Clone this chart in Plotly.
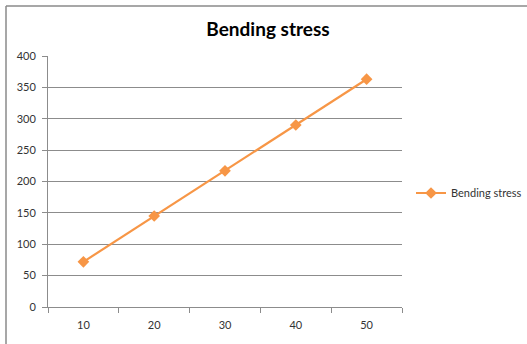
import plotly.graph_objects as go

categories = ["10", "20", "30", "40", "50"]
bending_stress = [72, 145, 217, 290, 363]
y_ticks = [0, 50, 100, 150, 200, 250, 300, 350, 400]

W, H = 527, 344
L, R, T, B = 48, 125, 56, 37
pw, ph = W - L - R, H - T - B

grid = "#8c8c8c"
fig = go.Figure()
fig.add_trace(go.Scatter(
    x=categories, y=bending_stress, mode="lines+markers", name="Bending stress",
    line=dict(color="#F79646", width=2.2),
    marker=dict(symbol="diamond", size=9, color="#F79646"),
))

def px_x(p):
    return (p - L) / pw

def px_y(p):
    return 1 - (p - T) / ph

fig.update_layout(
    width=W, height=H,
    margin=dict(l=L, r=R, t=T, b=B, autoexpand=False),
    paper_bgcolor="white", plot_bgcolor="white",
    font=dict(family="Lato, Liberation Sans, sans-serif", size=11, color="#333333"),
    title=dict(text="<b>Bending stress</b>", x=px_x(268), xref="paper", xanchor="center",
               y=1 - 29 / H, yref="container", yanchor="middle",
               font=dict(size=19, color="black", family="Lato, Liberation Sans, sans-serif")),
    xaxis=dict(type="category", range=[-0.5, len(categories) - 0.5], autorange=False,
               showgrid=False, showline=True, linecolor=grid, linewidth=1,
               ticks="outside", tickson="boundaries", ticklen=5, tickcolor=grid,
               ticklabelstandoff=8, tickfont=dict(size=11), fixedrange=True),
    yaxis=dict(range=[0, 400], tickvals=y_ticks, showgrid=True, gridcolor=grid, gridwidth=1,
               showline=True, linecolor=grid, linewidth=1, ticks="outside", ticklen=5,
               tickcolor=grid, zeroline=False, ticklabelstandoff=4, tickfont=dict(size=11)),
    showlegend=True,
    legend=dict(x=px_x(411), y=px_y(193), xanchor="left", yanchor="middle",
                font=dict(size=11, color="#333333"), bgcolor="rgba(0,0,0,0)",
                itemwidth=30),
    shapes=[
        dict(type="line", xref="paper", yref="paper", x0=px_x(6), x1=px_x(6),
             y0=px_y(6), y1=px_y(360), line=dict(color="#8a8a8a", width=1.5)),
        dict(type="line", xref="paper", yref="paper", x0=px_x(6), x1=px_x(540),
             y0=px_y(6), y1=px_y(6), line=dict(color="#8a8a8a", width=1.5)),
    ],
)

fig.write_html("out.html", config={"displayModeBar": False},
               post_script="document.body.style.margin='0';document.body.style.overflow='hidden';")
